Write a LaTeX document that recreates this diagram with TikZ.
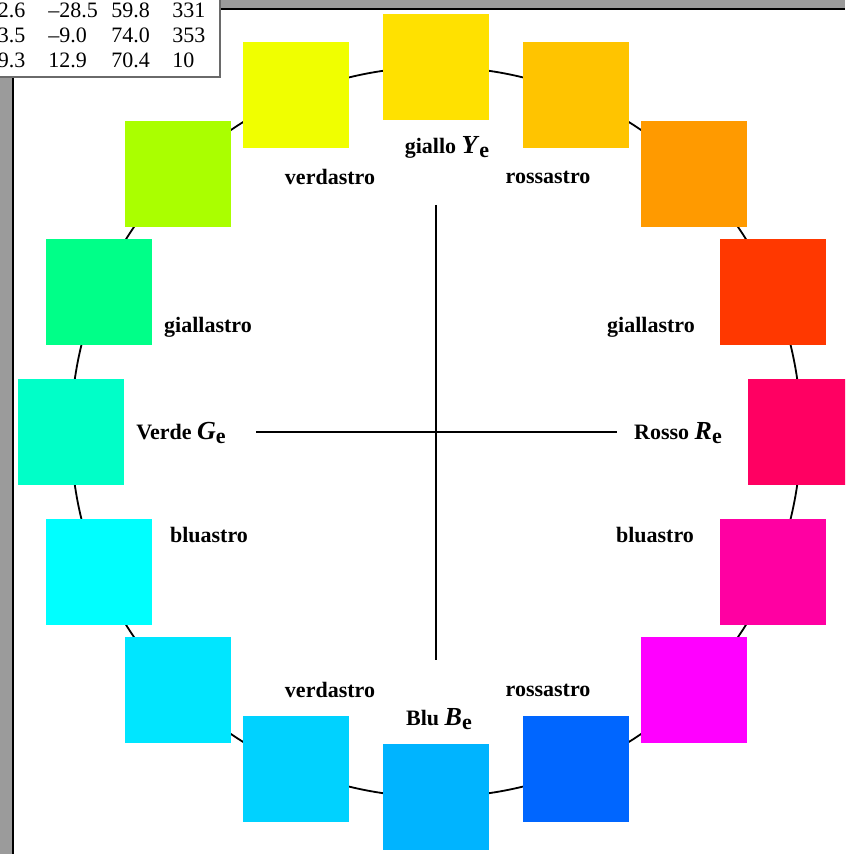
\documentclass[tikz,border=0pt]{standalone}
\usepackage{fontspec}
\setmainfont{Liberation Serif}
\usetikzlibrary{positioning}

\definecolor{framegray}{HTML}{9B9B9B}
\definecolor{boxgray}{HTML}{6A6A6A}
\newcommand{\huename}[1]{{\fontsize{13}{13}\selectfont\textit{#1}}\raisebox{-0.45ex}{\fontsize{11}{12}\selectfont e}}

\begin{document}
\begin{tikzpicture}[
  x=0.5pt, y=-0.5pt,
  font=\fontsize{11}{13}\selectfont,
  swatch/.style={rectangle, minimum size=53pt, inner sep=0, draw=none},
  hue/.style={font=\fontsize{11}{13}\selectfont\bfseries, inner sep=1pt},
  axis/.style={draw=black, line width=0.7pt},
  wheel/.style={draw=black, line width=0.9pt},
  num/.style={anchor=base west, inner sep=0},
]
\useasboundingbox (0,0) rectangle (845,854);
\clip (0,0) rectangle (845,854);

% frame round the page
\fill[framegray] (0,0) rectangle (12,854);
\fill[framegray] (0,0) rectangle (845,8);
\draw[black, line width=1pt] (13,854) -- (13,9) -- (845,9);

% table corner
\draw[boxgray, fill=white, line width=0.8pt] (-5,-5) rectangle (220,77);
\foreach \r/\a/\b/\c/\d in {1/2.6/{--28.5}/59.8/331, 2/3.5/{--9.0}/74.0/353, 3/9.3/12.9/70.4/10}{
  \pgfmathsetmacro{\yb}{18+(\r-1)*25}
  \node[num] (r\r c1) at (-2.5,\yb) {\a};
  \node[num] (r\r c2) at (48,\yb) {\b};
  \node[num] (r\r c3) at (111,\yb) {\c};
  \node[num] (r\r c4) at (172,\yb) {\d};
}

% hue circle
\coordinate (c) at (436,432);
\draw[wheel] (c) circle[radius=365];

\foreach \a/\hex in {0/FF0062, 22.5/FF3800, 45/FF9A00, 67.5/FFC400, 90/FFE100,
                     112.5/F0FF00, 135/AAFF00, 157.5/00FF88, 180/00FFC8,
                     202.5/00FFFF, 225/00E6FF, 247.5/00D2FF, 270/00B4FF,
                     292.5/0066FF, 315/FF00FF, 337.5/FF00A2}{
  \definecolor{sw}{HTML}{\hex}
  \node[swatch, fill=sw] (sq\a) at ([shift={(-\a:365)}]c) {};
}

% axes
\coordinate (ytop) at (436,205);
\coordinate (ybot) at (436,660);
\coordinate (gleft) at (256,432);
\coordinate (rright) at (617,432);
\draw[axis] (ytop) -- (ybot);
\draw[axis] (gleft) -- (rright);

% labels
\node[hue] (ye) at (447,147) {giallo \huename{Y}};
\node[hue] (be) at (439,719) {Blu \huename{B}};
\node[hue] (ge) at (181,433) {Verde \huename{G}};
\node[hue] (re) at (678,433) {Rosso \huename{R}};
\node[hue] (vtop) at (330,177) {verdastro};
\node[hue] (rtop) at (548,177) {rossastro};
\node[hue] (gl) at (208,327) {giallastro};
\node[hue] (gr) at (651,327) {giallastro};
\node[hue] (bl) at (209,535) {bluastro};
\node[hue] (br) at (655,535) {bluastro};
\node[hue] (vbot) at (330,690) {verdastro};
\node[hue] (rbot) at (548,690) {rossastro};
\end{tikzpicture}
\end{document}
